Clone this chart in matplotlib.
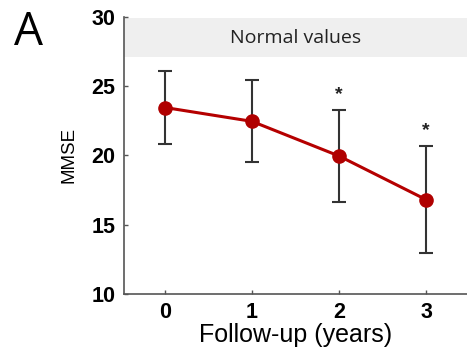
import matplotlib
matplotlib.use("Agg")
import matplotlib.pyplot as plt

# follow-up year, mean MMSE and SD
years = [0, 1, 2, 3]
mmse = [23.45, 22.45, 19.95, 16.8]
sd = [2.6, 2.95, 3.3, 3.85]
signif = [False, False, True, True]
normal_band = (27.1, 29.9)

plt.rcParams['font.family'] = ['Liberation Sans', 'DejaVu Sans']

fig = plt.figure(figsize=(4.67, 3.49), dpi=100)
ax = fig.add_axes([0.2655, 0.158, 0.7345, 0.794])

ax.axhspan(normal_band[0], normal_band[1], color='#efefef', lw=0, zorder=0)
ax.text(1.5, (normal_band[0] + normal_band[1]) / 2, "Normal values",
        ha='center', va='center', fontsize=14, family='Open Sans', color='#222222')

ax.errorbar(years, mmse, yerr=sd, fmt='none', ecolor='#333333',
            elinewidth=1.5, capsize=5, capthick=1.5, zorder=2)
ax.plot(years, mmse, color='#b50000', lw=2.2, marker='o', markersize=9.5,
        markerfacecolor='#b00000', markeredgecolor='#b00000', zorder=3)

for x, m, s, sig in zip(years, mmse, sd, signif):
    if sig:
        ax.text(x, m + s + 0.55, "*", ha='center', va='bottom', fontsize=14,
                fontweight='bold', color='#222222')

ax.set_xlim(-0.47, 3.47)
ax.set_ylim(10, 30)
ax.set_xticks(years)
ax.set_yticks([10, 15, 20, 25, 30])
ax.tick_params(direction='in', length=3, width=1, color='#555555', labelsize=15.5, pad=6)
for lab in ax.get_xticklabels() + ax.get_yticklabels():
    lab.set_fontweight('bold')
ax.spines['top'].set_visible(False)
ax.spines['right'].set_visible(False)
for sp in ['left', 'bottom']:
    ax.spines[sp].set_color('#555555')
    ax.spines[sp].set_linewidth(1.2)

ax.set_xlabel("Follow-up (years)", fontsize=18, labelpad=0)
ax.set_ylabel("MMSE", fontsize=13.5, labelpad=10)

fig.text(0.03, 0.87, "A", fontsize=33, family='Open Sans')

fig.savefig("out.png", dpi=100)
